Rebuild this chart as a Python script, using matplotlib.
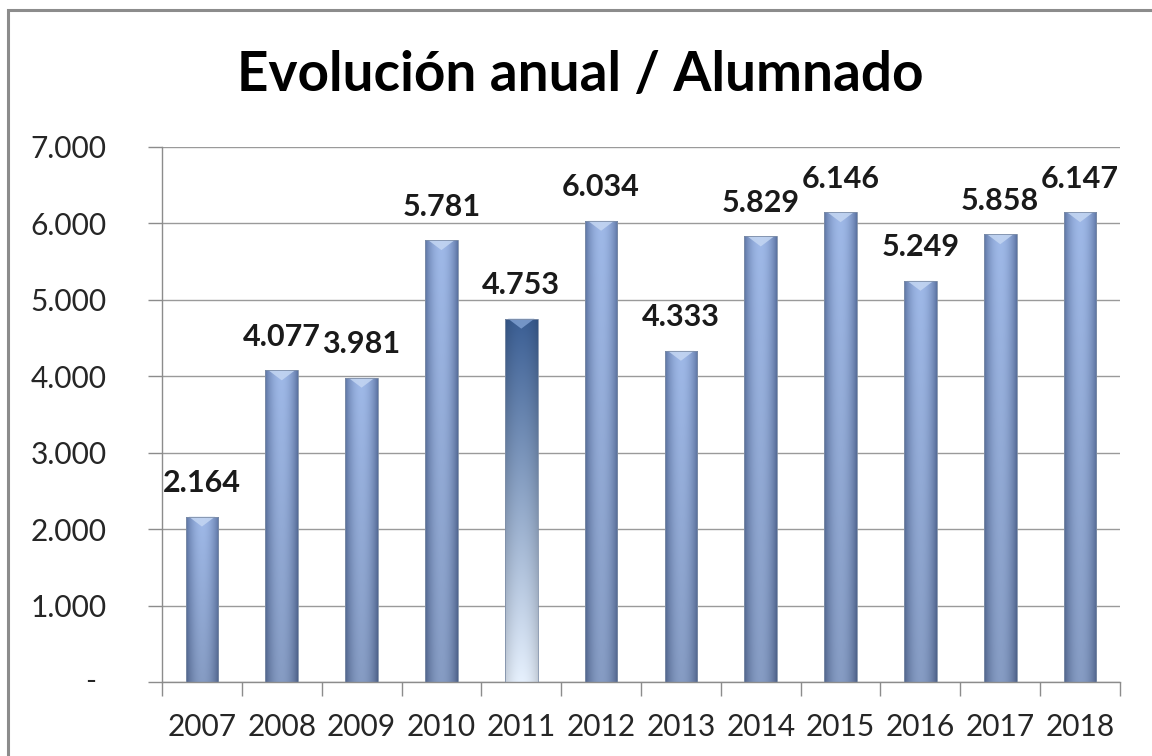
import numpy as np
import matplotlib
matplotlib.use('Agg')
import matplotlib.pyplot as plt
from matplotlib.patches import Rectangle, Polygon
from matplotlib.ticker import FuncFormatter
import matplotlib.transforms as mtransforms

plt.rcParams['font.family'] = ['Lato', 'DejaVu Sans']

years = ['2007', '2008', '2009', '2010', '2011', '2012', '2013', '2014',
         '2015', '2016', '2017', '2018']
alumnos = [2164, 4077, 3981, 5781, 4753, 6034, 4333, 5829, 6146, 5249, 5858, 6147]
highlight = '2011'

fig = plt.figure(figsize=(11.52, 7.56), dpi=100)
ax = fig.add_axes([162/1152, 74/756, 958/1152, 535/756])

# outer frame of the chart area
fig.patches.append(Rectangle((8/1152, -0.05), 1.2, 746/756 + 0.05,
                             transform=fig.transFigure, fill=False,
                             ec='#8c8c8c', lw=2.2))

x = np.arange(len(years))
w = 0.41
bars = ax.bar(x, alumnos, width=w, color='none', edgecolor='#7f8fa8', lw=0.6, zorder=3)

# horizontal "cylinder" shading for normal bars
u = np.linspace(0, 1, 60)
prof = np.sin(np.pi * u) ** 0.8
v = np.linspace(0, 1, 100)[:, None]          # 0 = bottom, 1 = top
edge = np.array([0.35, 0.44, 0.62])
mid = np.array([0.61, 0.71, 0.89])
grad = edge + (mid - edge) * prof[None, :, None]
shade = 0.86 + 0.16 * v
img_normal = np.clip(grad * shade[:, :, None], 0, 1)

# vertical gradient for the highlighted year
top_c = np.array([0.23, 0.37, 0.58])
bot_c = np.array([0.90, 0.94, 0.99])
vv = np.linspace(0, 1, 100)[:, None, None]
hz = 0.85 + 0.15 * prof[None, :, None]
img_hi = np.clip((bot_c + (top_c - bot_c) * vv) * hz, 0, 1)

for b, yr in zip(bars, years):
    x0, h = b.get_x(), b.get_height()
    img = img_hi if yr == highlight else img_normal
    im = ax.imshow(img, extent=(x0, x0 + w, 0, h), origin='lower',
                   aspect='auto', zorder=2.5, interpolation='bilinear')
    im.set_clip_path(b)
    # bevel at the top
    bev = 130
    tri = Polygon([(x0 + 0.04, h), (x0 + w - 0.04, h), (x0 + w / 2, h - bev)],
                  closed=True, fc='#c4d6f2' if yr != highlight else '#7f9fd0',
                  ec='none', alpha=0.85, zorder=2.8)
    ax.add_patch(tri)
    ax.annotate(f'{h:,.0f}'.replace(',', '.'), (x0 + w / 2, h),
                xytext=(0, 14), textcoords='offset points',
                ha='center', va='bottom', fontsize=22, fontweight='bold',
                color='#1a1a1a', zorder=4)

ax.set_xlim(-0.5, len(years) - 0.5)
ax.set_ylim(0, 7000)
ax.set_yticks(np.arange(0, 7001, 1000))
ax.yaxis.set_major_formatter(FuncFormatter(
    lambda val, pos: '' if val == 0 else f'{val:,.0f}'.replace(',', '.')))
ax.text(-0.075, 0, '-', transform=mtransforms.blended_transform_factory(ax.transAxes, ax.transData),
        ha='center', va='center', fontsize=21, color='#262626')

ax.set_xticks(x)
ax.set_xticklabels(years)
ax.set_xticks(np.arange(-0.5, len(years)), minor=True)
ax.tick_params(axis='x', which='major', length=0, pad=22, labelsize=21.5, colors='#262626')
ax.tick_params(axis='x', which='minor', length=10, width=1, color='#8c8c8c')
ax.tick_params(axis='y', length=10, width=1, color='#8c8c8c', pad=30,
               labelsize=21.5, labelcolor='#262626')

ax.grid(axis='y', color='#9a9a9a', lw=1, zorder=0)
ax.set_axisbelow(True)
for s in ['top', 'right']:
    ax.spines[s].set_visible(False)
for s in ['left', 'bottom']:
    ax.spines[s].set_color('#8c8c8c')
    ax.spines[s].set_linewidth(1)

fig.text(580/1152, 1 - 75/756, 'Evolución anual / Alumnado', ha='center', va='center',
         fontsize=39.5, fontweight='bold', color='black')

fig.savefig('out.png', dpi=100)
